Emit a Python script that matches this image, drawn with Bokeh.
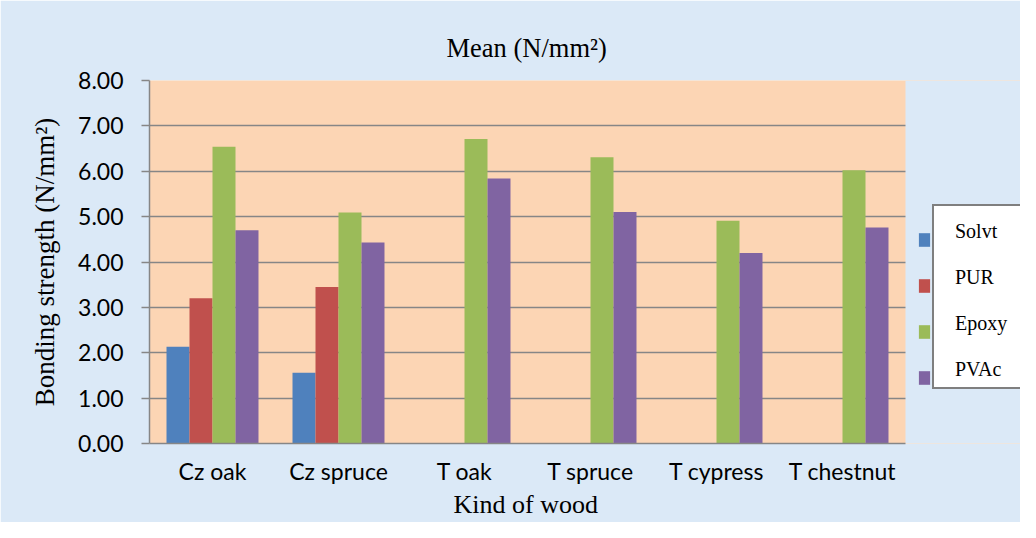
import numpy as np
from bokeh.plotting import figure
from bokeh.models import (ColumnDataSource, Range1d, Legend, LegendItem, BoxAnnotation,
                          FixedTicker, NumeralTickFormatter, Title)
from bokeh.core.properties import value
from bokeh.transform import dodge
from bokeh.embed import file_html
from bokeh.resources import INLINE

categories = ["Cz oak", "Cz spruce", "T oak", "T spruce", "T cypress", "T chestnut"]
series_names = ["Solvt", "PUR", "Epoxy", "PVAc"]
solvt = [2.13, 1.56, np.nan, np.nan, np.nan, np.nan]
pur = [3.20, 3.45, np.nan, np.nan, np.nan, np.nan]
epoxy = [6.54, 5.09, 6.71, 6.31, 4.91, 6.02]
pvac = [4.70, 4.43, 5.84, 5.10, 4.20, 4.76]
y_ticks = [0, 1, 2, 3, 4, 5, 6, 7, 8]

colors = ["#4F81BD", "#C0504D", "#9BBB59", "#8064A2"]
BG = "#DBE9F7"
PEACH = "#FCD5B4"
GRID = "#868686"
SERIF = "Liberation Serif"
SANS = "Lato"

xs = list(range(len(categories)))
src = ColumnDataSource(dict(x=xs, Solvt=solvt, PUR=pur, Epoxy=epoxy, PVAc=pvac))

W, H = 1020, 522
LEFT, TOP, BOTTOM = 149, 80, 79
CAT_PX = 126.0  # pixel width of one category slot
frame_w = W - LEFT
x_start = -0.5
x_end = x_start + frame_w / CAT_PX
n = len(categories)

p = figure(width=W, height=H, x_range=Range1d(x_start, x_end), y_range=Range1d(0, 8),
           output_backend="svg", toolbar_location=None,
           min_border_left=LEFT, min_border_right=0, min_border_top=TOP, min_border_bottom=BOTTOM)

p.background_fill_color = PEACH
p.border_fill_color = BG
p.outline_line_color = None

bw = 0.1825
offsets = [-1.5 * bw, -0.5 * bw, 0.5 * bw, 1.5 * bw]
renderers = []
for name, col, off in zip(series_names, colors, offsets):
    r = p.vbar(x=dodge("x", off), top=name, width=bw, source=src,
               fill_color=col, line_color=None)
    renderers.append(r)

# area right of the plot area (legend zone) has the chart background
p.add_layout(BoxAnnotation(left=n - 0.5, fill_color=BG, fill_alpha=1, line_color=None, level="glyph"))

# title (left-aligned with offset so it centres over the plot area)
p.title = Title(text="Mean (N/mm²)", text_font=SERIF, text_font_size="26.5px",
                text_font_style="normal", text_color="black", align="left",
                offset=297, standoff=36)

# y axis
p.yaxis.ticker = FixedTicker(ticks=y_ticks)
p.yaxis.formatter = NumeralTickFormatter(format="0.00")
p.yaxis.axis_label = "Bonding strength (N/mm²)"
p.yaxis.axis_label_text_font = SERIF
p.yaxis.axis_label_text_font_size = "27px"
p.yaxis.axis_label_text_font_style = "normal"
p.yaxis.axis_label_text_color = "black"
p.yaxis.axis_label_standoff = 15
p.yaxis.major_label_text_font = SANS
p.yaxis.major_label_text_font_size = "23px"
p.yaxis.major_label_text_color = "black"
p.yaxis.major_label_standoff = 18
p.yaxis.major_tick_out = 8
p.yaxis.major_tick_in = 0
p.yaxis.minor_tick_out = 0
p.yaxis.minor_tick_in = 0
p.yaxis.axis_line_color = GRID
p.yaxis.axis_line_width = 1.5
p.yaxis.major_tick_line_color = GRID
p.yaxis.major_tick_line_width = 1.5

# x axis
p.xaxis.ticker = FixedTicker(ticks=xs)
p.xaxis.major_label_overrides = {i: c for i, c in zip(xs, categories)}
p.xaxis.bounds = (x_start, n - 0.5)
p.xaxis.major_label_text_font = SANS
p.xaxis.major_label_text_font_size = "23px"
p.xaxis.major_label_text_color = "black"
p.xaxis.major_label_standoff = 13
p.xaxis.major_tick_out = 0
p.xaxis.major_tick_in = 0
p.xaxis.minor_tick_out = 0
p.xaxis.minor_tick_in = 0
p.xaxis.axis_line_color = GRID
p.xaxis.axis_line_width = 1.5

# x axis title, placed under the axis and centred on the plot area
p.add_layout(Title(text="Kind of wood", text_font=SERIF, text_font_size="26px",
                   text_font_style="normal", text_color="black", align="left",
                   offset=304, standoff=1), "below")

p.xgrid.grid_line_color = None
p.ygrid.grid_line_color = GRID
p.ygrid.grid_line_width = 1.5

# legend: colour markers sit just outside the bordered box, labels inside it
common = dict(glyph_height=17, label_height=24, spacing=22, padding=6,
              label_text_font=SERIF, label_text_font_size="20px", label_text_color="black",
              title=" ", title_text_font_size="7px", title_standoff=0,
              orientation="vertical", margin=0)
marker_legend = Legend(items=[LegendItem(label=value(" "), renderers=[r]) for r in renderers],
                       location=(768, 54), glyph_width=14, label_width=0, label_standoff=0,
                       border_line_color=None, background_fill_alpha=0, **common)
box_legend = Legend(items=[LegendItem(label=value(nm), renderers=[r]) for nm, r in zip(series_names, renderers)],
                    location=(783, 54), glyph_width=0, label_width=200, label_standoff=15,
                    border_line_color="black", border_line_width=2, background_fill_color="white",
                    background_fill_alpha=1, **common)
p.add_layout(marker_legend)
p.add_layout(box_legend)

open("out.html", "w").write(file_html(p, INLINE))
